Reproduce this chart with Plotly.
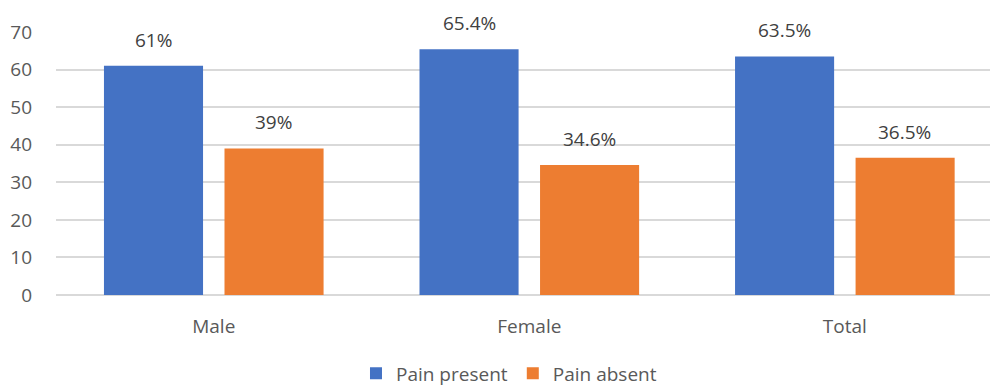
import plotly.graph_objects as go

categories = ["Male", "Female", "Total"]
pain_present = [61, 65.4, 63.5]
pain_absent = [39, 34.6, 36.5]
present_labels = ["61%", "65.4%", "63.5%"]
absent_labels = ["39%", "34.6%", "36.5%"]
y_ticks = [0, 10, 20, 30, 40, 50, 60, 70]

BLUE = "#4472C4"
ORANGE = "#ED7D31"
FONT = "Open Sans, Liberation Sans, sans-serif"
FS = 19

fig = go.Figure()
fig.add_trace(go.Bar(name="Pain present", x=categories, y=pain_present,
                     marker=dict(color=BLUE, line=dict(width=0))))
fig.add_trace(go.Bar(name="Pain absent", x=categories, y=pain_absent,
                     marker=dict(color=ORANGE, line=dict(width=0))))

# value labels floating above each bar
for cat, v, t in zip(categories, pain_present, present_labels):
    fig.add_annotation(x=cat, y=v, text=t, showarrow=False, xshift=-60,
                       yanchor="bottom", yshift=11,
                       font=dict(family=FONT, size=FS, color="#404040"))
for cat, v, t in zip(categories, pain_absent, absent_labels):
    fig.add_annotation(x=cat, y=v, text=t, showarrow=False, xshift=60,
                       yanchor="bottom", yshift=11,
                       font=dict(family=FONT, size=FS, color="#404040"))

fig.update_layout(
    width=990, height=389,
    margin=dict(l=56, r=0, t=32, b=94, autoexpand=False),
    paper_bgcolor="white", plot_bgcolor="white",
    barmode="group", bargap=0.236, bargroupgap=0.178,
    font=dict(family=FONT, size=FS, color="#595959"),
    showlegend=True,
    legend=dict(orientation="h", x=0.485, xanchor="center", xref="paper",
                y=0.04, yanchor="middle", yref="container",
                font=dict(size=FS, color="#595959"),
                itemwidth=30, traceorder="normal"),
    xaxis=dict(range=[-0.5, 2.46], showgrid=False, showline=False,
               ticks="", ticklabelstandoff=18,
               tickfont=dict(size=FS, color="#595959")),
    yaxis=dict(range=[0, 70], tickvals=y_ticks, showgrid=True,
               gridcolor="#D9D9D9", gridwidth=1.5, zeroline=True,
               zerolinecolor="#D9D9D9", zerolinewidth=1.5, ticks="",
               ticklabelstandoff=23,
               tickfont=dict(size=FS, color="#595959")),
)

fig.write_html("out.html")
